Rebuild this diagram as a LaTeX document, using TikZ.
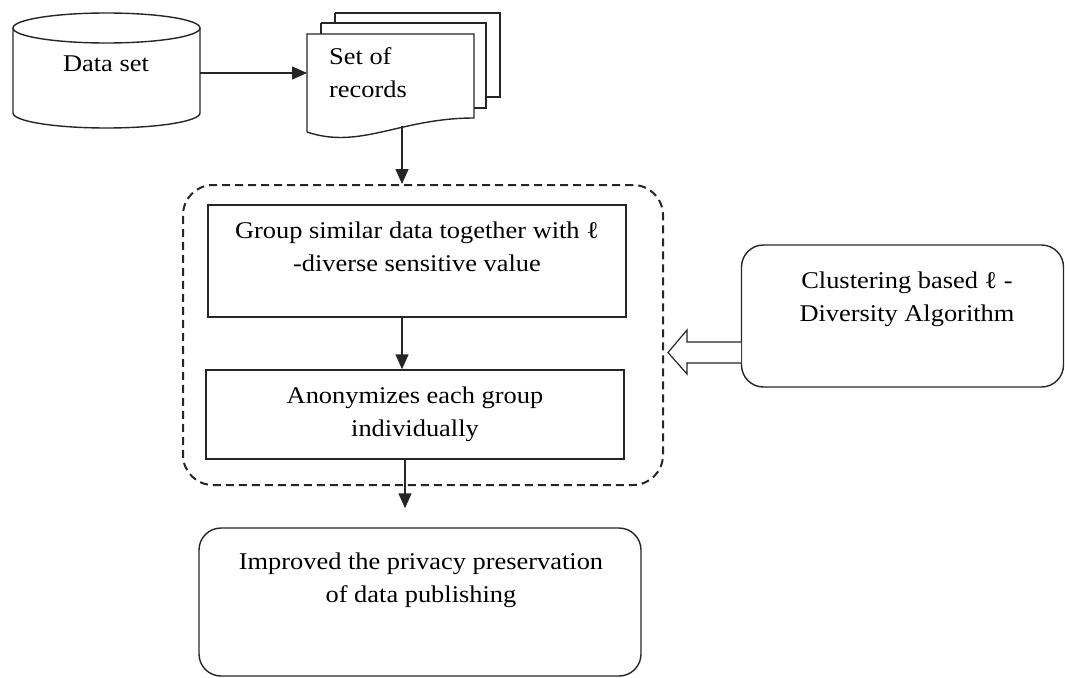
\documentclass[tikz,border=0pt]{standalone}
\usepackage{fontspec}
\setmainfont[FakeStretch=1.1]{Liberation Serif}
\usetikzlibrary{arrows.meta}
\tikzset{
  ln/.style={line width=1.4pt, draw=black!85},
  arr/.style={ln, -{Triangle[length=15pt,width=13pt]}},
  boxr/.style={ln, rectangle, inner sep=0pt},
  rbox/.style={ln, rectangle, rounded corners=22pt, inner sep=0pt},
  txt/.style={font=\fontsize{24}{33}\selectfont, align=center, inner sep=0pt, anchor=north},
}
\begin{document}
\begin{tikzpicture}[x=1pt,y=-1pt]
\useasboundingbox (0,0) rectangle (1065,677);
% cylinder
\draw[ln] (13,28) -- (13,113) arc[start angle=180, end angle=0, x radius=93.5, y radius=15] -- (200,28);
\draw[ln] (106.5,28) ellipse[x radius=93.5, y radius=15];
\node[txt, anchor=center] (ds) at (106,64) {Data set};
\coordinate (dsR) at (200,73);
% multidocument
\draw[ln, fill=white] (335,13) -- (500,13) -- (500,97) -- (486,97);
\draw[ln, fill=white] (321,23) -- (486,23) -- (486,108) -- (474,108);
\draw[ln] (321,34) -- (321,23);
\draw[ln] (335,23) -- (335,13);
\draw[ln, fill=white] (307,132) -- (307,34) -- (474,34) -- (474,118) .. controls (400,118) and (360,150) .. (307,132);
\node[txt, anchor=north west, align=left] (sr) at (329,47) {Set of\\records};
\coordinate (docL) at (307,73);
\coordinate (docB) at (402,126);
\draw[arr] (dsR) -- (docL);
% dashed group
\node[draw=black!85, line width=2pt, dash pattern=on 8pt off 5pt, rounded corners=30pt, minimum width=480pt, minimum height=300pt, inner sep=0pt] (grp) at (423,335) {};
\draw[arr] (docB) -- (docB |- grp.north);
% box 1
\node[boxr, minimum width=418pt, minimum height=112pt] (b1) at (417,261) {};
\node[txt] (t1) at (417,222) {Group similar data together with ℓ\\-diverse sensitive value};
% box 2
\node[boxr, minimum width=418pt, minimum height=89pt] (b2) at (415,414.5) {};
\node[txt] (t2) at (415,387) {Anonymizes each group\\individually};
\draw[arr] (b1.south -| 402,0) -- (b2.north -| 402,0);
% final box
\node[rbox, minimum width=442pt, minimum height=148pt] (fin) at (420,602) {};
\node[txt] (t3) at (421,553) {Improved the privacy preservation\\of data publishing};
\draw[arr, shorten >=19pt] (b2.south -| 405,0) -- (fin.north -| 405,0);
% clustering box
\node[rbox, minimum width=322pt, minimum height=142pt] (cl) at (902.5,316) {};
\node[txt] (t4) at (907,272) {Clustering based ℓ -\\Diversity Algorithm};
% hollow arrow
\coordinate (hA) at (741,342);
\coordinate (hB) at (741,363);
\draw[ln, line width=1.2pt, fill=white] (hA) -- (687,342) -- (687,330) -- (668,352.5) -- (687,374) -- (687,363) -- (hB);
\end{tikzpicture}
\end{document}
